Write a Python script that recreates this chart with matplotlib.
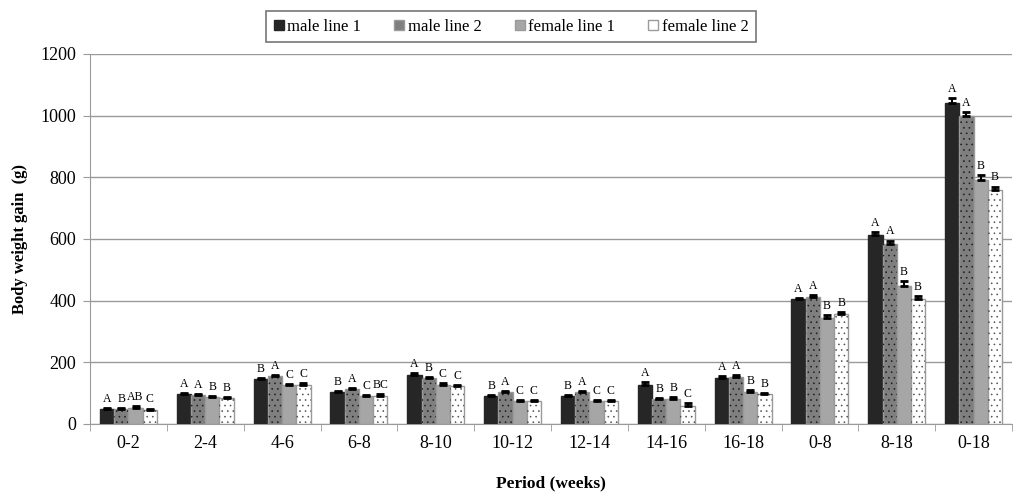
import numpy as np
import matplotlib
matplotlib.use('Agg')
import matplotlib.pyplot as plt

plt.rcParams['font.family'] = ['Liberation Serif', 'DejaVu Serif']
plt.rcParams['hatch.linewidth'] = 0.4

periods = ['0-2', '2-4', '4-6', '6-8', '8-10', '10-12', '12-14', '14-16', '16-18', '0-8', '8-18', '0-18']
series = ['male line 1', 'male line 2', 'female line 1', 'female line 2']

male1 = [50, 97, 145, 103, 160, 90, 90, 127, 150, 405, 612, 1040]
male2 = [50, 93, 155, 112, 148, 103, 103, 80, 153, 412, 585, 1000]
female1 = [53, 88, 125, 90, 128, 75, 75, 80, 105, 345, 448, 790]
female2 = [47, 85, 128, 92, 122, 75, 75, 60, 97, 357, 405, 760]

err_male1 = [3, 3, 5, 4, 5, 4, 4, 9, 6, 4, 12, 16]
err_male2 = [3, 3, 5, 4, 4, 4, 4, 4, 5, 5, 10, 12]
err_female1 = [4, 3, 4, 4, 4, 3, 3, 7, 5, 7, 16, 16]
err_female2 = [3, 3, 5, 4, 4, 3, 3, 7, 4, 5, 10, 10]

letters_male1 = ['A', 'A', 'B', 'B', 'A', 'B', 'B', 'A', 'A', 'A', 'A', 'A']
letters_male2 = ['B', 'A', 'A', 'A', 'B', 'A', 'A', 'B', 'A', 'A', 'A', 'A']
letters_female1 = ['AB', 'B', 'C', 'C', 'C', 'C', 'C', 'B', 'B', 'B', 'B', 'B']
letters_female2 = ['C', 'B', 'C', 'BC', 'C', 'C', 'C', 'C', 'B', 'B', 'B', 'B']

values = [male1, male2, female1, female2]
errors = [err_male1, err_male2, err_female1, err_female2]
letters = [letters_male1, letters_male2, letters_female1, letters_female2]
colors = ['#262626', '#7f7f7f', '#a6a6a6', '#ffffff']
hatches = [None, '...', None, '...']
hatch_cols = [None, '#1a1a1a', None, '#4d4d4d']

fig = plt.figure(figsize=(10.13, 4.95), dpi=100)
ax = fig.add_axes([90 / 1013, 1 - 424 / 495, 922 / 1013, 370 / 495])

x = np.arange(len(periods))
w = 0.185
handles = []
for i in range(4):
    pos = x + (i - 1.5) * w
    b = ax.bar(pos, values[i], w, color=colors[i], edgecolor='#9a9a9a' if i > 0 else '#262626',
               linewidth=1.0, zorder=3, label=series[i])
    if hatches[i]:
        ax.bar(pos, values[i], w, fill=False, hatch=hatches[i], edgecolor=hatch_cols[i],
               linewidth=0, zorder=4)
    handles.append(b)
    ax.errorbar(pos, values[i], yerr=[np.zeros(len(periods)), errors[i]], fmt='none',
                ecolor='black', elinewidth=1.5, capsize=3, capthick=2, zorder=5)
    for xp, v, e, t in zip(pos, values[i], errors[i], letters[i]):
        ax.text(xp, v + e + 10, t, ha='center', va='bottom', fontsize=8.5, zorder=6)

ax.set_xlim(-0.5, len(periods) - 0.5)
ax.set_ylim(0, 1200)
ax.set_yticks(range(0, 1201, 200))
ax.set_xticks(x)
ax.set_xticklabels(periods, fontsize=13)
ax.set_xticks(np.arange(-0.5, len(periods), 1), minor=True)
ax.tick_params(axis='x', which='major', length=0, pad=8)
ax.tick_params(axis='x', which='minor', length=5, color='#9a9a9a', direction='out')
ax.tick_params(axis='y', labelsize=13, length=5, color='#9a9a9a', direction='out', pad=5)
ax.yaxis.grid(True, color='#9a9a9a', linewidth=1.0, zorder=0)
ax.set_axisbelow(True)
for s in ['top', 'right']:
    ax.spines[s].set_visible(False)
for s in ['left', 'bottom']:
    ax.spines[s].set_color('#9a9a9a')

ax.set_xlabel('Period (weeks)', fontsize=12.5, fontweight='bold', labelpad=17)
ax.set_ylabel('Body weight gain  (g)', fontsize=12, fontweight='bold', labelpad=9)

leg = fig.legend(handles=handles, loc='upper center', bbox_to_anchor=(511 / 1013, 1 - 3 / 495),
                 ncol=4, fontsize=12, frameon=True, fancybox=False, edgecolor='#555555',
                 handlelength=0.6, handleheight=0.6, handletextpad=0.2, columnspacing=2.0,
                 borderpad=0.45)
leg.get_frame().set_linewidth(1.2)
for h, hatch in zip(leg.legend_handles, hatches):
    if hatch:
        h.set_hatch('.')

fig.savefig('out.png', dpi=100)
